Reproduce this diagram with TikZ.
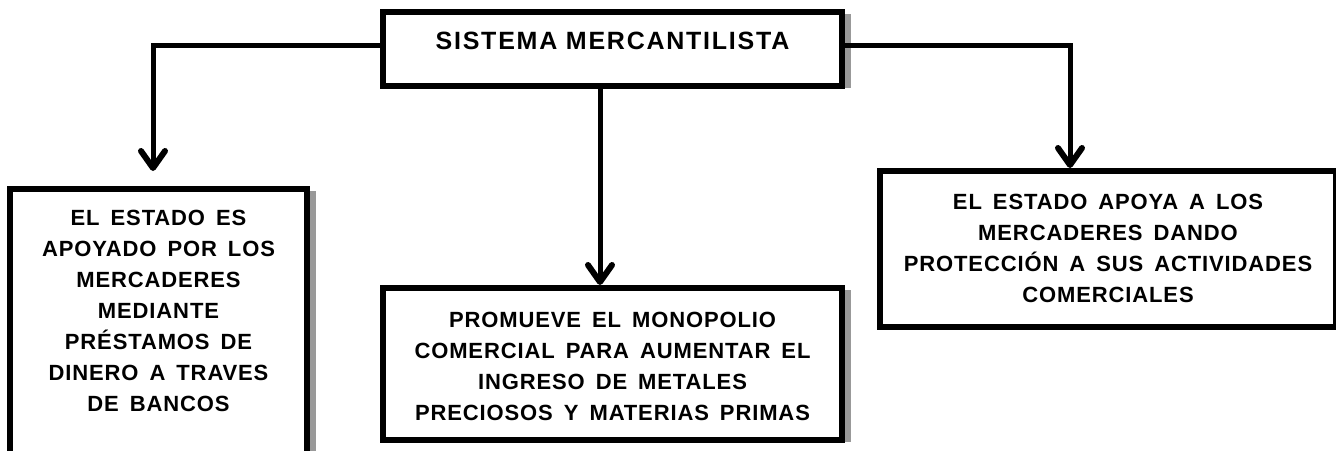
\documentclass[tikz,border=0pt]{standalone}
\usepackage{fontspec}
\setmainfont{Liberation Sans}
\newfontfamily\titlefont{Liberation Sans}[LetterSpace=7]
\newfontfamily\boxfont{Liberation Sans}[LetterSpace=4]
\newcommand\widespaces{\spaceskip=11pt\relax}
\usepackage{tikz}
\usetikzlibrary{arrows.meta,positioning,shadows}

\begin{document}
\begin{tikzpicture}[
    x=1pt, y=1pt,
    box/.style={rectangle, draw, line width=6pt, fill=white, align=center,
        drop shadow={shadow xshift=9pt, shadow yshift=-2pt, fill=black!40, opacity=1},
        font=\boxfont\bfseries\fontsize{22}{31}\selectfont, text height=16pt},
    textbox/.style={box, execute at begin node=\widespaces},
    arrow/.style={line width=5pt,
        -{Straight Barb[length=17pt,width=24pt,line width=6pt,round]}}
]
    \useasboundingbox (0,0) rectangle (1336,-450);
    \clip (0,0) rectangle (1336,-450);

    % Title
    \node [box, font=\titlefont\bfseries\fontsize{25}{28}\selectfont,
        minimum width=459pt, minimum height=74pt, text height=18pt, text depth=18pt]
        (mercantil) at (612.5,-49) {SISTEMA MERCANTILISTA};

    % Left branch
    \node [textbox, anchor=north, text width=282pt, minimum width=297pt,
        minimum height=300pt, text depth=244pt] (prestamos) at (158.5,-186)
        {EL ESTADO ES\\APOYADO POR LOS\\MERCADERES\\MEDIANTE\\PRÉSTAMOS DE\\DINERO A TRAVES\\DE BANCOS};
    \draw [arrow, shorten >=15pt] ([yshift=4pt]mercantil.west) -| ([xshift=-5.5pt]prestamos.north);

    % Middle branch
    \node [textbox, below=196pt of mercantil, text width=444pt, minimum width=459pt,
        minimum height=152pt, text depth=90pt] (monopolio)
        {PROMUEVE EL MONOPOLIO\\COMERCIAL PARA AUMENTAR EL\\INGRESO DE METALES\\PRECIOSOS Y MATERIAS PRIMAS};
    \draw [arrow] ([xshift=-12.5pt]mercantil.south) -- ([xshift=-12.5pt]monopolio.north);

    % Right branch
    \node [textbox, text width=440pt, minimum width=456pt, minimum height=156pt,
        text depth=95pt] (proteccion) at (1108,-249)
        {EL ESTADO APOYA A LOS\\MERCADERES DANDO\\PROTECCIÓN A SUS ACTIVIDADES\\COMERCIALES};
    \draw [arrow] ([yshift=4pt]mercantil.east) -| ([xshift=-38pt]proteccion.north);
\end{tikzpicture}
\end{document}
